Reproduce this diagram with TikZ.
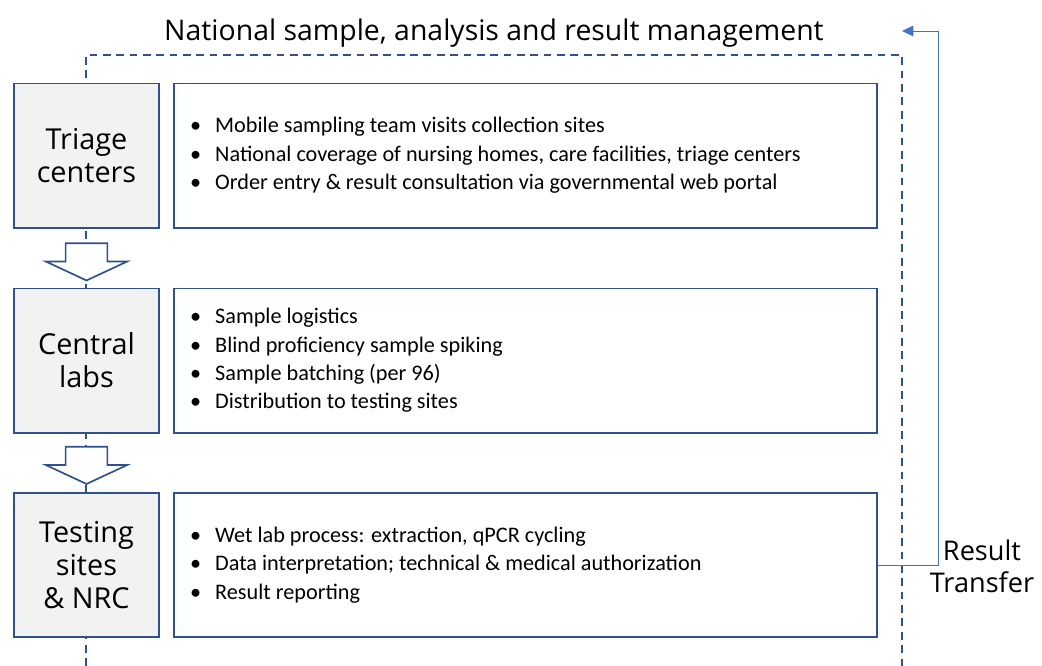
\documentclass[tikz,border=0pt]{standalone}
\usepackage{fontspec}
\setmainfont{Carlito}
\newfontfamily\labelfont{Open Sans}
\usetikzlibrary{shapes.arrows,positioning,arrows.meta}
\definecolor{boxblue}{HTML}{2F528F}
\definecolor{linkblue}{HTML}{4472C4}
\definecolor{stagegray}{HTML}{F2F2F2}
\newcommand\task[1]{\makebox[0.625cm][l]{\textbullet}#1}
\tikzset{
	stage/.style = {draw=boxblue, line width=1.4pt, fill=stagegray,
		minimum width=3.625cm, minimum height=3.6cm, inner sep=0pt,
		align=center, font=\labelfont\fontsize{20.5}{23.5}\selectfont},
	tasks/.style = {draw=boxblue, line width=1.4pt, fill=white,
		minimum width=17.575cm, minimum height=3.6cm, inner sep=0pt},
	bullets/.style = {align=left, inner sep=0pt, font=\fontsize{15.8}{20.2}\selectfont},
	flow/.style = {draw=boxblue, line width=1.2pt, fill=white, single arrow,
		minimum height=0.93cm, inner xsep=0pt, inner ysep=0.5cm,
		single arrow head extend=0.5cm, single arrow tip angle=130, rotate=-90},
	frame/.style = {draw=boxblue, line width=1.4pt, dash pattern=on 5.5pt off 4pt},
	transfer/.style = {draw=linkblue, line width=0.7pt, -{Triangle[length=8pt,width=7.5pt]}},
}
\begin{document}
\begin{tikzpicture}[x=0.025cm, y=-0.025cm]
	\useasboundingbox (0,0) rectangle (1042,666);
	% dashed frame behind the stages
	\draw [frame] (86,666) -- (86,55) -- (902,55) -- (902,666);
	\node [anchor=base, font=\labelfont\fontsize{20.2}{24}\selectfont] (title) at (494,40)
		{National sample, analysis and result management};

	\node [stage] (triage) at (86.5,155.5) {Triage\\centers};
	\node [stage] (central) at (86.5,360.5) {Central\\labs};
	\node [stage] (testing) at (86.5,565) {Testing\\sites\\\& NRC};

	\node [flow] (flow1) at (86.5,257) {};
	\node [flow] (flow2) at (86.5,460.5) {};

	\node [tasks] (tasks1) at (525.5,155.5) {};
	\node [tasks] (tasks2) at (525.5,360.5) {};
	\node [tasks] (tasks3) at (525.5,565) {};

	\node [bullets, right=0.425cm of tasks1.west] (list1) {%
		\task{Mobile sampling team visits collection sites}\\
		\task{National coverage of nursing homes, care facilities, triage centers}\\
		\task{Order entry \& result consultation via governmental web portal}};
	\node [bullets, right=0.425cm of tasks2.west] (list2) {%
		\task{Sample logistics}\\
		\task{Blind proficiency sample spiking}\\
		\task{Sample batching (per 96)}\\
		\task{Distribution to testing sites}};
	\node [bullets, right=0.425cm of tasks3.west] (list3) {%
		\task{Wet lab process: extraction, qPCR cycling}\\
		\task{Data interpretation; technical \& medical authorization}\\
		\task{Result reporting}};

	% result transfer back to the national level
	\coordinate (back) at (902,31);
	\draw [transfer] (tasks3.east) -- ++(60,0) |- (back);
	\node [align=center, font=\labelfont\fontsize{19.3}{23}\selectfont] (result) at (982,566)
		{Result\\Transfer};
\end{tikzpicture}
\end{document}
